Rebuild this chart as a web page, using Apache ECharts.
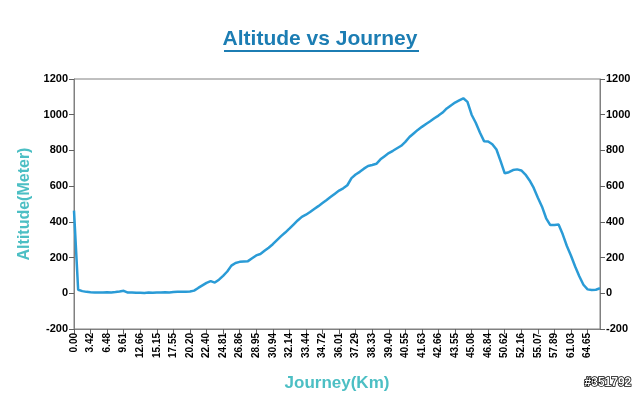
<!DOCTYPE html>
<html>
<head>
<meta charset="utf-8">
<script src="https://cdn.jsdelivr.net/npm/echarts@6/dist/echarts.min.js"></script>
<style>
  html, body { margin: 0; padding: 0; background: #fff; }
  #chart { width: 640px; height: 397px; }
</style>
</head>
<body>
<div id="chart"></div>
<script>
// km labels shown under the axis, one every 4 points
var tickLabels = ['0.00','3.42','6.48','9.61','12.66','15.15','17.55','20.20','22.40','24.81',
  '26.86','28.95','30.94','32.14','33.44','34.72','36.01','37.29','38.33','39.40','40.55',
  '41.63','42.66','43.55','45.08','46.84','50.62','52.16','55.07','57.89','61.03','64.65'];
var pointsPerLabel = 4;

// altitude (m)
var altitude = [
  463, 20, 12, 8, 6, 5, 4, 4, 6, 5,
  7, 10, 14, 4, 5, 3, 3, 2, 4, 3,
  5, 4, 6, 5, 7, 8, 9, 9, 10, 15,
  30, 44, 58, 68, 60, 76, 98, 122, 155, 170,
  176, 178, 180, 196, 212, 220, 238, 255, 275, 298,
  320, 340, 362, 385, 408, 428, 440, 455, 472, 488,
  505, 522, 540, 558, 575, 588, 605, 645, 665, 680,
  698, 713, 718, 725, 750, 768, 785, 798, 812, 826,
  848, 875, 895, 915, 932, 948, 963, 980, 995, 1012,
  1035, 1052, 1068, 1080, 1092, 1072, 1000, 955, 900, 852,
  850, 835, 805, 740, 672, 678, 690, 694, 688, 665,
  632, 590, 535, 485, 420, 382, 383, 385, 330, 265,
  210, 150, 95, 48, 22, 18, 20, 28
];

// y axis range
var yMin = -200, yMax = 1200, yStep = 200;

// categories: label at every 4th point, blanks between
var categories = [];
for (var i = 0; i < altitude.length; i++) {
  categories.push(i % pointsPerLabel === 0 ? (tickLabels[i / pointsPerLabel] || '') : '');
}

var chart = echarts.init(document.getElementById('chart'));

var yAxisBase = {
  type: 'value',
  min: yMin,
  max: yMax,
  interval: yStep,
  splitLine: { show: false },
  axisLine: { show: true, lineStyle: { color: '#808080' } },
  axisTick: { show: true, length: 5, lineStyle: { color: '#606060' } },
  axisLabel: {
    color: '#000', fontFamily: 'Liberation Sans', fontWeight: 'bold', fontSize: 11, margin: 6,
    formatter: function (v) { return String(v); }
  }
};

var option = {
  backgroundColor: '#fff',
  animation: false,
  grid: {
    left: 74, right: 40, top: 79, bottom: 66,
    show: true, borderColor: '#808080', borderWidth: 1
  },
  graphic: [
    {
      type: 'text', left: 'center', top: 29,
      style: { text: 'Altitude vs Journey', fill: '#1c7db3',
        font: 'bold 21px "Liberation Sans", Arial' }
    },
    {
      type: 'rect', shape: { x: 224, y: 50, width: 195, height: 2 },
      style: { fill: '#1c7db3' }
    },
    {
      type: 'text', right: 8, top: 376,
      style: { text: '#351792', fill: '#fff', stroke: '#000', lineWidth: 1.5,
        font: 'bold 12px "Liberation Sans", Arial' }
    }
  ],
  xAxis: {
    type: 'category',
    data: categories,
    boundaryGap: false,
    name: 'Journey(Km)',
    nameLocation: 'middle',
    nameGap: 46,
    nameTextStyle: { color: '#4cbfc4', fontFamily: 'Liberation Sans', fontWeight: 'bold', fontSize: 17 },
    axisLine: { show: true, onZero: false, lineStyle: { color: '#808080' } },
    axisTick: { show: true, interval: pointsPerLabel - 1, length: 5, lineStyle: { color: '#606060' } },
    axisLabel: {
      interval: pointsPerLabel - 1, rotate: 90, color: '#000',
      fontFamily: 'Liberation Sans', fontWeight: 'bold', fontSize: 10, margin: 4
    },
    splitLine: { show: false }
  },
  yAxis: [
    Object.assign({}, yAxisBase, {
      position: 'left',
      name: 'Altitude(Meter)',
      nameLocation: 'middle',
      nameGap: 40,
      nameTextStyle: { color: '#4cbfc4', fontFamily: 'Liberation Sans', fontWeight: 'bold', fontSize: 16 }
    }),
    Object.assign({}, yAxisBase, { position: 'right' })
  ],
  series: [{
    type: 'line',
    data: altitude,
    showSymbol: false,
    lineStyle: { color: '#2a9bd6', width: 2.5 },
    itemStyle: { color: '#2a9bd6' }
  }]
};

chart.setOption(option);
</script>
</body>
</html>
